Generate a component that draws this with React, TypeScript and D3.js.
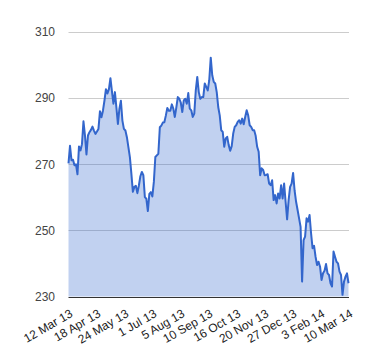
import React from "react";
import * as d3 from "d3";

const values: number[] = [
  270.2, 275.5, 271.1, 271.3, 269.6, 269.9, 266.9, 275.3, 274.1, 276.0,
  282.9, 278.6, 272.9, 278.6, 279.6, 280.3, 281.3, 280.1, 279.1, 279.8,
  280.6, 285.9, 284.1, 286.1, 289.1, 292.6, 291.3, 292.6, 295.9, 292.0,
  288.2, 291.7, 287.0, 282.1, 286.7, 289.1, 283.1, 280.6, 280.1, 278.1,
  275.1, 272.1, 267.0, 261.6, 263.1, 263.4, 261.2, 263.5, 266.3, 267.6,
  266.6, 260.0, 259.5, 255.8, 261.0, 261.5, 260.2, 264.6, 272.1, 272.6,
  273.1, 281.1, 281.6, 282.5, 282.6, 284.6, 286.9, 286.1, 286.1, 288.0,
  286.7, 284.2, 287.0, 290.2, 289.7, 288.5, 285.7, 289.2, 289.7, 288.2,
  291.4, 286.7, 286.2, 284.2, 285.2, 292.2, 296.3, 291.7, 289.7, 290.2,
  290.2, 294.3, 293.3, 292.2, 295.3, 302.1, 296.8, 294.8, 294.3, 291.7,
  287.2, 284.7, 280.2, 279.7, 275.2, 277.7, 278.2, 275.7, 274.0, 275.4,
  279.2, 281.2, 281.7, 282.7, 283.2, 282.2, 283.7, 282.0, 284.2, 286.2,
  284.7, 281.7, 281.2, 280.2, 280.2, 278.5, 275.2, 273.7, 266.6, 268.7,
  268.2, 266.6, 266.7, 266.9, 264.1, 263.6, 265.1, 259.1, 260.6, 258.1,
  261.1, 259.6, 263.6, 259.6, 264.1, 258.6, 253.3, 259.1, 263.1, 264.1,
  267.3, 262.0, 258.6, 256.1, 253.6, 251.0, 234.5, 247.0, 248.1, 253.6,
  252.6, 254.6, 249.1, 244.6, 245.3, 242.0, 239.5, 240.5, 239.0, 235.0,
  237.0, 237.8, 239.8, 237.0, 236.5, 234.0, 233.0, 243.6, 242.0, 240.5,
  240.0, 237.5, 236.5, 230.5, 234.5, 236.0, 237.0, 234.0,
];

const xLabels: string[] = [
  "12 Mar 13", "18 Apr 13", "24 May 13", "1 Jul 13", "5 Aug 13", "10 Sep 13",
  "16 Oct 13", "20 Nov 13", "27 Dec 13", "3 Feb 14", "10 Mar 14",
];

const yTicks: number[] = [230, 250, 270, 290, 310];

const W = 380;
const H = 360;
const left = 68.5;
const right = 348.5;
const top = 31.5;
const bottom = 296.5;
const FONT = "Arial, 'Liberation Sans', sans-serif";

export default function App() {
  const x = d3.scaleLinear().domain([0, values.length - 1]).range([left, right]);
  const y = d3.scaleLinear().domain([230, 310]).range([bottom, top]);
  const xl = d3.scalePoint<string>().domain(xLabels).range([left, right]);

  const area = d3
    .area<number>()
    .x((_, i) => x(i))
    .y0(y(230))
    .y1((d) => y(d));
  const line = d3
    .line<number>()
    .x((_, i) => x(i))
    .y((d) => y(d));

  return (
    <svg
      width={W}
      height={H}
      style={{ position: "absolute", left: 0, top: 0, background: "#fff" }}
    >
      {yTicks
        .filter((t) => t !== 230)
        .map((t) => (
          <line
            key={"g" + t}
            x1={left}
            x2={right + 0.5}
            y1={Math.round(y(t)) + 0.5}
            y2={Math.round(y(t)) + 0.5}
            stroke="#cccccc"
            strokeWidth={1}
          />
        ))}
      <path d={area(values) || ""} fill="#3366cc" fillOpacity={0.3} />
      <path
        d={line(values) || ""}
        fill="none"
        stroke="#3366cc"
        strokeWidth={2}
        strokeLinejoin="round"
      />
      <line
        x1={left}
        x2={right + 0.5}
        y1={Math.round(y(230)) + 0.5}
        y2={Math.round(y(230)) + 0.5}
        stroke="#333333"
        strokeWidth={1}
      />
      {yTicks.map((t) => (
        <text
          key={"y" + t}
          x={55}
          y={y(t) + 4.5}
          textAnchor="end"
          fontFamily={FONT}
          fontSize={12}
          fill="#444444"
        >
          {t}
        </text>
      ))}
      {xLabels.map((l) => (
        <text
          key={l}
          transform={`translate(${(xl(l) as number) + 5},316) rotate(-30)`}
          textAnchor="end"
          fontFamily={FONT}
          fontSize={12}
          fill="#222222"
        >
          {l}
        </text>
      ))}
    </svg>
  );
}
